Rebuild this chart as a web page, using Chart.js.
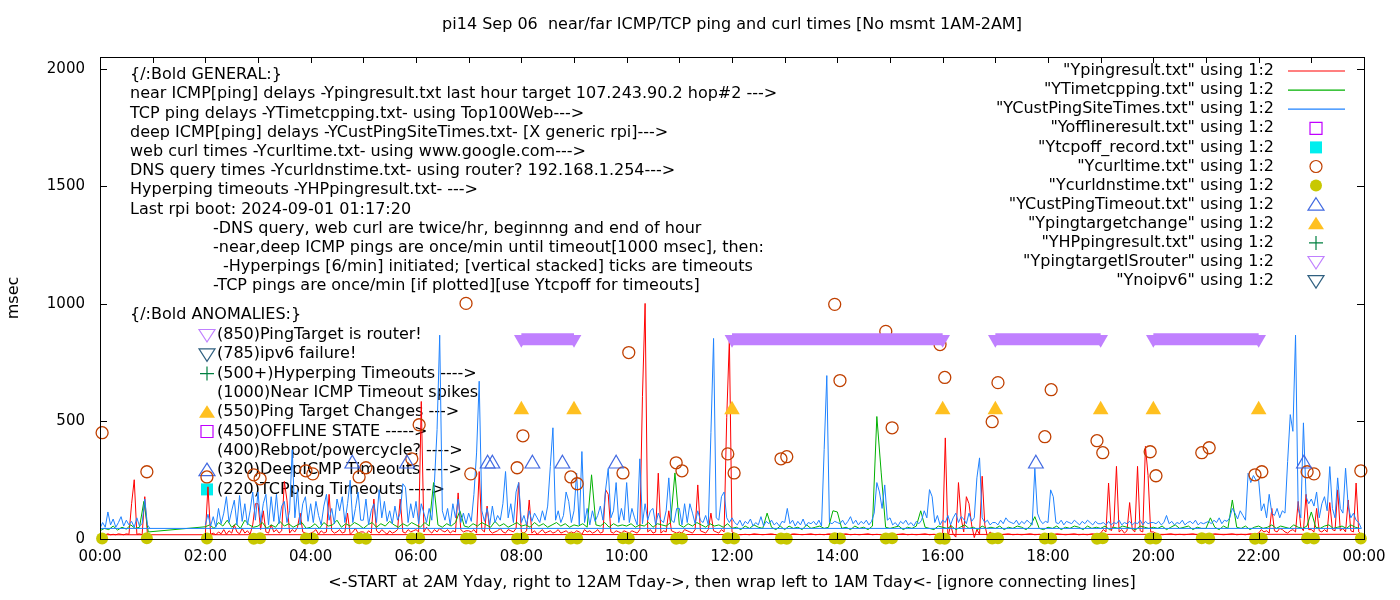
<!DOCTYPE html>
<html>
<head>
<meta charset="utf-8">
<title>pi14 ping and curl times</title>
<script src="https://cdn.jsdelivr.net/npm/chart.js@4.4.1/dist/chart.umd.min.js"></script>
<style>
  body { margin: 0; background: #fff; }
  canvas { display: block; }
</style>
</head>
<body>
<canvas id="pingChart" width="1400" height="600"></canvas>
<script>
// one row per hour of the day, values spread evenly over the hour, msec; null = no msmt
const nearIcmpRows = [
  [18, 20, 18, 22, 18, 20, 18, 22, 20, 18, 22, 20, 150, 252, 20, 22, 18, 180, 20, 18],
  null,
  [20, 222, 20, 25, 18, 30, 22, 40, 20, 35, 25, 60, 30, 22, 45, 25, 35, 20, 60, 150],
  [150, 40, 120, 30, 25, 60, 30, 40, 25, 35, 245, 165, 25, 40, 30, 50, 110, 30, 25, 20],
  [25, 30, 40, 20, 35, 25, 30, 190, 35, 25, 30, 40, 25, 30, 110, 20, 30, 45, 25, 30],
  [30, 20, 35, 25, 170, 35, 25, 40, 30, 20, 35, 25, 30, 40, 170, 30, 25, 40, 30, 35],
  [40, 30, 585, 30, 50, 35, 25, 40, 30, 45, 35, 30, 40, 25, 35, 30, 196, 40, 30, 35],
  [35, 30, 40, 25, 287, 40, 30, 140, 35, 25, 30, 35, 45, 30, 25, 40, 35, 30, 45, 240],
  [30, 25, 35, 166, 25, 35, 20, 30, 40, 25, 30, 35, 25, 30, 40, 25, 30, 35, 25, 30],
  [25, 35, 30, 20, 40, 30, 35, 25, 30, 40, 25, 30, 210, 190, 30, 25, 35, 30, 25, 35],
  [30, 25, 35, 30, 25, 40, 607, 1002, 30, 40, 25, 30, 280, 25, 35, 30, 120, 35, 30, 25],
  [30, 25, 40, 35, 30, 25, 40, 230, 35, 30, 25, 40, 110, 35, 30, 25, 40, 30, 516, 849],
  [30, 20, 18, 20, 18, 22, 20, 18, 20, 22, 18, 20],
  [20, 18, 22, 20, 18, 20, 22, 18, 20, 18, 22, 20],
  [18, 20, 22, 18, 20, 18, 20, 22, 18, 20, 18, 20],
  [20, 18, 20, 22, 18, 20, 18, 20, 22, 18, 20, 18],
  [20, 430, 5, 60, 20, 8, 240, 90, 30, 180, 150, 60, 6, 40, 20, 267, 60, 10, 30, 20],
  [20, 18, 20, 22, 18, 20, 18, 20, 22, 18, 20, 18],
  [20, 18, 22, 20, 18, 20, 22, 18, 20, 18, 22, 20],
  [25, 40, 30, 238, 35, 60, 309, 30, 40, 25, 35, 155, 40, 30, 309, 35, 30, 394, 270, 30],
  [30, 20, 18, 20, 22, 18, 20, 18, 20, 22, 18, 20],
  [20, 18, 22, 20, 18, 20, 22, 18, 20, 18, 22, 20],
  [25, 40, 30, 35, 25, 130, 35, 30, 45, 40, 30, 25, 35, 40, 30, 160, 50, 35, 190, 40],
  [40, 30, 130, 35, 30, 40, 30, 155, 40, 35, 209, 35, 45, 30, 166, 35, 30, 238, 30, 20]
];

const tcpPingRows = [
  [35, 45, 40, 55, 38, 50, 42, 60, 45, 50, 160, 30],
  null,
  [52, 60, 45, 70, 55, 80, 50, 65, 45, 80, 60, 50],
  [55, 70, 45, 60, 50, 75, 55, 65, 50, 60, 70, 45],
  [50, 65, 45, 70, 55, 60, 80, 50, 65, 55, 70, 60],
  [45, 60, 70, 50, 65, 55, 75, 60, 50, 65, 55, 70],
  [60, 50, 70, 55, 240, 60, 50, 65, 55, 70, 120, 55],
  [50, 65, 55, 70, 60, 50, 75, 55, 65, 50, 60, 70],
  [55, 60, 50, 70, 55, 65, 50, 60, 70, 55, 65, 50],
  [60, 55, 65, 50, 273, 60, 55, 70, 50, 65, 55, 60],
  [55, 65, 50, 60, 55, 70, 50, 65, 60, 55, 70, 281],
  [60, 50, 65, 55, 70, 60, 50, 65, 55, 60, 50, 65],
  [45, 50, 40, 55, 45, 60, 50, 45, 110, 50, 40, 55],
  [40, 55, 45, 50, 40, 60, 45, 50, 55, 45, 50, 120],
  [115, 45, 50, 40, 55, 45, 50, 40, 55, 521, 281, 50],
  [45, 50, 55, 40, 50, 45, 55, 120, 50, 45, 40, 55],
  [50, 45, 55, 40, 50, 60, 45, 50, 40, 55, 45, 50],
  [45, 55, 40, 50, 45, 55, 50, 40, 55, 95, 45, 40],
  [50, 45, 55, 40, 50, 45, 55, 50, 40, 55, 45, 50],
  [45, 55, 40, 50, 45, 55, 50, 45, 40, 55, 50, 45],
  [50, 45, 55, 40, 50, 60, 45, 50, 55, 40, 50, 45],
  [45, 90, 50, 40, 55, 45, 166, 50, 45, 55, 40, 50],
  [55, 45, 50, 60, 45, 55, 50, 45, 60, 50, 45, 55],
  [115, 50, 45, 55, 60, 45, 50, 55, 45, 60, 50, 45]
];

const deepIcmpRows = [
  [45, 70, 50, 115, 60, 85, 50, 70, 95, 55, 80, 60, 75, 50, 90, 55, 65, 170, 60, 45],
  null,
  [60, 105, 55, 95, 50, 130, 65, 110, 180, 70, 120, 165, 60, 185, 75, 150, 60, 120, 200, 80],
  [200, 70, 150, 190, 60, 180, 75, 190, 65, 140, 160, 70, 120, 380, 90, 210, 60, 150, 180, 75],
  [150, 70, 160, 100, 60, 140, 190, 80, 130, 65, 170, 120, 180, 70, 150, 250, 70, 130, 200, 80],
  [80, 170, 60, 120, 150, 70, 210, 90, 160, 75, 120, 65, 140, 80, 110, 235, 220, 70, 150, 90],
  [160, 65, 150, 110, 70, 130, 80, 240, 465, 867, 120, 80, 130, 60, 150, 90, 170, 70, 110, 65],
  [110, 75, 190, 366, 671, 120, 75, 130, 60, 140, 70, 100, 80, 150, 287, 90, 150, 70, 200, 240],
  [70, 100, 60, 120, 75, 110, 90, 70, 120, 80, 140, 308, 473, 80, 120, 70, 100, 200, 160, 70],
  [120, 280, 60, 372, 70, 130, 60, 120, 75, 100, 140, 80, 210, 300, 90, 120, 240, 70, 130, 80],
  [240, 70, 130, 90, 60, 341, 65, 150, 80, 120, 130, 60, 110, 80, 70, 120, 260, 80, 70, 130],
  [130, 60, 150, 70, 150, 110, 65, 120, 80, 70, 100, 60, 452, 853, 90, 80, 180, 200, 90, 70],
  [90, 70, 60, 80, 55, 75, 65, 85, 55, 70, 60, 95, 55, 75, 65, 80, 60, 70, 55, 75],
  [70, 130, 65, 80, 55, 75, 60, 85, 55, 70, 65, 75, 60, 80, 55, 380, 695, 70, 65, 75],
  [70, 65, 80, 60, 75, 95, 65, 80, 60, 75, 65, 80, 60, 75, 110, 240, 200, 130, 230, 80],
  [90, 60, 70, 55, 75, 65, 80, 60, 70, 55, 75, 65, 80, 120, 90, 210, 180, 70, 100, 60],
  [80, 70, 100, 60, 90, 110, 70, 95, 85, 65, 110, 75, 90, 260, 345, 90, 70, 80, 60, 70],
  [70, 60, 80, 65, 90, 75, 70, 65, 80, 60, 75, 65, 80, 70, 60, 300, 110, 80, 65, 75],
  [70, 209, 180, 70, 65, 80, 60, 75, 70, 65, 80, 70, 60, 75, 65, 80, 70, 60, 75, 65],
  [65, 70, 60, 75, 60, 70, 65, 80, 60, 70, 65, 75, 60, 70, 65, 80, 60, 75, 65, 70],
  [70, 65, 75, 60, 70, 100, 65, 75, 60, 70, 65, 80, 60, 70, 75, 65, 80, 60, 70, 65],
  [70, 75, 65, 80, 70, 90, 65, 80, 75, 90, 130, 110, 85, 120, 100, 80, 280, 240, 270, 250],
  [250, 120, 150, 90, 190, 110, 100, 130, 90, 120, 110, 330, 529, 458, 867, 130, 90, 494, 180, 150],
  [170, 140, 200, 90, 150, 180, 120, 308, 130, 90, 260, 130, 110, 301, 140, 90, 110, 80, 70, 45]
];

// curl and dns are taken at the end and beginning of each hour (hours of day)
const curlTimes = [0.04, 0.89, 2.03, 2.92, 3.04, 3.91, 4.04, 4.92, 5.05, 5.92, 6.06, 6.95, 7.04, 7.92, 8.03,
  8.94, 9.06, 9.93, 10.04, 10.94, 11.05, 11.92, 12.04, 12.93, 13.04, 13.95, 14.05, 14.92, 15.04, 15.95,
  16.04, 16.94, 17.05, 17.94, 18.06, 18.93, 19.04, 19.94, 20.05, 20.92, 21.06, 21.93, 22.06, 22.92, 23.05, 23.94];
const curlMsec = [452, 286, 264, 273, 256, 290, 277, 264, 303, 341, 486, 1002, 277, 303, 439,
  264, 235, 281, 793, 324, 290, 362, 281, 341, 350, 998, 674, 883, 473, 827,
  687, 499, 665, 435, 635, 418, 367, 371, 269, 367, 388, 273, 286, 286, 277, 290];
const dnsMsec = [2, 3, 2, 1, 3, 2, 2, 3, 1, 2, 3, 2, 2, 1, 3,
  2, 2, 3, 2, 1, 2, 3, 2, 2, 1, 3, 2, 2, 3, 2,
  1, 2, 3, 2, 2, 1, 3, 2, 2, 3, 2, 1, 2, 3, 2, 2];

const custTimeoutTimes = [4.79, 5.83, 7.36, 7.45, 8.21, 8.78, 9.80, 17.77, 22.86];
const custTimeoutMsec = [320, 320, 320, 320, 320, 320, 320, 320, 320];

const targetChangeTimes = [8, 9, 12, 16, 17, 19, 20, 22];
const targetChangeMsec = [550, 550, 550, 550, 550, 550, 550, 550];

const routerStart = [8, 12, 17, 20];
const routerEnd = [9, 16, 19, 22];
const routerMsec = [850, 850, 850, 850];

const xTicksHours = [0, 2, 4, 6, 8, 10, 12, 14, 16, 18, 20, 22, 24];
const yTicksMsec = [0, 500, 1000, 1500, 2000];

const generalNotes = [
  ['{/:Bold GENERAL:}', 130],
  ['near ICMP[ping] delays -Ypingresult.txt last hour target 107.243.90.2 hop#2 --->', 130],
  ['TCP ping delays -YTimetcpping.txt- using Top100Web--->', 130],
  ['deep ICMP[ping] delays -YCustPingSiteTimes.txt- [X generic rpi]--->', 130],
  ['web curl times -Ycurltime.txt- using www.google.com--->', 130],
  ['DNS query times -Ycurldnstime.txt- using router? 192.168.1.254--->', 130],
  ['Hyperping timeouts -YHPpingresult.txt- --->', 130],
  ['Last rpi boot: 2024-09-01 01:17:20', 130],
  ['-DNS query, web curl are twice/hr, beginnng and end of hour', 213],
  ['-near,deep ICMP pings are once/min until timeout[1000 msec], then:', 213],
  ['-Hyperpings [6/min] initiated; [vertical stacked] ticks are timeouts', 223],
  ['-TCP pings are once/min [if plotted][use Ytcpoff for timeouts]', 213]
];

const anomalyNotes = [
  ['(850)PingTarget is router!', 'itri', '#c080ff'],
  ['(785)ipv6 failure!', 'itri', '#306080'],
  ['(500+)Hyperping Timeouts ---->', 'plus', '#008040'],
  ['(1000)Near ICMP Timeout spikes', null, null],
  ['(550)Ping Target Changes --->', 'trif', '#ffc020'],
  ['(450)OFFLINE STATE ----->', 'sq', '#c000ff'],
  ['(400)Rebpot/powercycle? ---->', null, null],
  ['(320)DeepICMP Timeouts ---->', 'tri', '#4169e1'],
  ['(220)TCPping Timeouts ---->', 'sqf', '#00eeee']
];

const keyEntries = [
  ['"Ypingresult.txt" using 1:2', 'line', '#ff0000'],
  ['"YTimetcpping.txt" using 1:2', 'line', '#00b000'],
  ['"YCustPingSiteTimes.txt" using 1:2', 'line', '#1e82ff'],
  ['"Yofflineresult.txt" using 1:2', 'sq', '#c000ff'],
  ['"Ytcpoff_record.txt" using 1:2', 'sqf', '#00eeee'],
  ['"Ycurltime.txt" using 1:2', 'circ', '#c04000'],
  ['"Ycurldnstime.txt" using 1:2', 'circf', '#c8c800'],
  ['"YCustPingTimeout.txt" using 1:2', 'tri', '#4169e1'],
  ['"Ypingtargetchange" using 1:2', 'trif', '#ffc020'],
  ['"YHPpingresult.txt" using 1:2', 'plus', '#008040'],
  ['"YpingtargetISrouter" using 1:2', 'itri', '#c080ff'],
  ['"Ynoipv6" using 1:2', 'itri', '#306080']
];

// files start at 2AM yesterday, run to midnight, then wrap to today 0-1AM
function toPoints(rows, hours) {
  let pts = [];
  hours.forEach(function(h) {
    if (!rows[h]) return;
    rows[h].forEach(function(v, i) {
      pts.push({x: h + i / rows[h].length, y: v});
    });
  });
  return pts;
}
let fromTwoAm = [];
for (let h = 2; h < 24; h++) fromTwoAm.push(h);
fromTwoAm.push(0, 1);
let byTime = [];
for (let h = 0; h < 24; h++) byTime.push(h);

let routerPts = [];
routerStart.forEach(function(s, i) {
  routerPts.push({x: s, y: routerMsec[i]}, {x: routerEnd[i], y: routerMsec[i]});
  if (i < routerStart.length - 1) routerPts.push({x: routerEnd[i], y: null});
});

const FONT = '16px "DejaVu Sans"';

function mark(ctx, kind, x, y, color) {
  ctx.save();
  ctx.strokeStyle = color;
  ctx.fillStyle = color;
  ctx.lineWidth = 1.2;
  ctx.beginPath();
  if (kind == 'line') {
    ctx.moveTo(x - 28, y); ctx.lineTo(x + 29, y); ctx.stroke();
  } else if (kind == 'sq' || kind == 'sqf') {
    ctx.rect(x - 6, y - 6, 12, 12);
    kind == 'sqf' ? ctx.fill() : ctx.stroke();
  } else if (kind == 'circ' || kind == 'circf') {
    ctx.arc(x, y, 6, 0, Math.PI * 2);
    kind == 'circf' ? ctx.fill() : ctx.stroke();
  } else if (kind == 'tri' || kind == 'trif') {
    ctx.moveTo(x, y - 7); ctx.lineTo(x + 8, y + 5.5); ctx.lineTo(x - 8, y + 5.5); ctx.closePath();
    kind == 'trif' ? ctx.fill() : ctx.stroke();
  } else if (kind == 'itri') {
    ctx.moveTo(x - 8, y - 5.5); ctx.lineTo(x + 8, y - 5.5); ctx.lineTo(x, y + 7); ctx.closePath();
    ctx.stroke();
  } else if (kind == 'plus') {
    ctx.moveTo(x - 7, y); ctx.lineTo(x + 7, y);
    ctx.moveTo(x, y - 7); ctx.lineTo(x, y + 7);
    ctx.stroke();
  }
  ctx.restore();
}

const gnuplotLook = {
  id: 'gnuplotLook',
  beforeDatasetsDraw(chart) {
    const ctx = chart.ctx;
    ctx.save();
    ctx.font = FONT;
    ctx.fillStyle = '#000';
    ctx.textAlign = 'left';
    ctx.textBaseline = 'middle';
    generalNotes.forEach(function(n, i) {
      ctx.fillText(n[0], n[1], 75 + i * 19.2);
    });
    ctx.fillText('{/:Bold ANOMALIES:}', 130, 315);
    anomalyNotes.forEach(function(n, i) {
      let y = 335 + i * 19.3;
      ctx.fillText(n[0], 217, y);
      if (n[1]) mark(ctx, n[1], 207, y, n[2]);
    });
    ctx.restore();
  },
  afterDraw(chart) {
    const ctx = chart.ctx;
    const a = chart.chartArea;
    const xs = chart.scales.x, ys = chart.scales.y;
    ctx.save();
    // frame and inward ticks
    ctx.strokeStyle = '#000';
    ctx.lineWidth = 1;
    ctx.strokeRect(a.left + 0.5, a.top + 0.5, a.right - a.left, a.bottom - a.top);
    ctx.beginPath();
    for (let h = 0; h <= 24; h++) {
      let px = Math.round(xs.getPixelForValue(h)) + 0.5;
      ctx.moveTo(px, a.top); ctx.lineTo(px, a.top + 6);
      if (h % 2 == 0) { ctx.moveTo(px, a.bottom); ctx.lineTo(px, a.bottom - 6); }
    }
    yTicksMsec.forEach(function(v) {
      let py = Math.round(ys.getPixelForValue(v)) + 0.5;
      ctx.moveTo(a.left, py); ctx.lineTo(a.left + 7, py);
      ctx.moveTo(a.right, py); ctx.lineTo(a.right - 7, py);
    });
    ctx.stroke();

    ctx.font = FONT;
    ctx.fillStyle = '#000';
    ctx.textBaseline = 'middle';
    ctx.textAlign = 'center';
    ctx.fillText('pi14 Sep 06  near/far ICMP/TCP ping and curl times [No msmt 1AM-2AM]', 732, 25);
    ctx.fillText('<-START at 2AM Yday, right to 12AM Tday->, then wrap left to 1AM Tday<- [ignore connecting lines]', 732, 583);
    ctx.save();
    ctx.translate(14, 298);
    ctx.rotate(-Math.PI / 2);
    ctx.fillText('msec', 0, 0);
    ctx.restore();

    // key, top right
    ctx.textAlign = 'right';
    keyEntries.forEach(function(k, i) {
      let y = 71 + i * 19.1;
      ctx.fillText(k[0], 1274, y);
      mark(ctx, k[1], 1316, y, k[2]);
    });
    ctx.restore();
  }
};

const lineBase = {
  pointRadius: 0,
  borderWidth: 1,
  tension: 0,
  fill: false
};

new Chart(document.getElementById('pingChart'), {
  type: 'line',
  data: {
    datasets: [
      Object.assign({
        label: 'Ypingresult.txt',
        data: toPoints(nearIcmpRows, fromTwoAm),
        borderColor: '#ff0000',
        order: 30
      }, lineBase),
      Object.assign({
        label: 'YTimetcpping.txt',
        data: toPoints(tcpPingRows, byTime),
        borderColor: '#00b000',
        order: 29
      }, lineBase),
      Object.assign({
        label: 'YCustPingSiteTimes.txt',
        data: toPoints(deepIcmpRows, fromTwoAm),
        borderColor: '#1e82ff',
        order: 28
      }, lineBase),
      {
        label: 'Ycurltime.txt',
        data: curlTimes.map(function(t, i) { return {x: t, y: curlMsec[i]}; }),
        showLine: false,
        pointStyle: 'circle',
        pointRadius: 6,
        pointBorderWidth: 1.3,
        pointBorderColor: '#c04000',
        pointBackgroundColor: 'rgba(0,0,0,0)',
        clip: false,
        order: 5
      },
      {
        label: 'Ycurldnstime.txt',
        data: curlTimes.map(function(t, i) { return {x: t, y: dnsMsec[i]}; }),
        showLine: false,
        pointStyle: 'circle',
        pointRadius: 6,
        pointBorderWidth: 0,
        pointBackgroundColor: '#c8c800',
        clip: false,
        order: 4
      },
      {
        label: 'YCustPingTimeout.txt',
        data: custTimeoutTimes.map(function(t, i) { return {x: t, y: custTimeoutMsec[i]}; }),
        showLine: false,
        pointStyle: 'triangle',
        pointRadius: 8.5,
        pointBorderWidth: 1.2,
        pointBorderColor: '#4169e1',
        pointBackgroundColor: 'rgba(0,0,0,0)',
        order: 3
      },
      {
        label: 'Ypingtargetchange',
        data: targetChangeTimes.map(function(t, i) { return {x: t, y: targetChangeMsec[i]}; }),
        showLine: false,
        pointStyle: 'triangle',
        pointRadius: 9,
        pointBorderWidth: 0,
        pointBackgroundColor: '#ffc020',
        order: 2
      },
      {
        label: 'YpingtargetISrouter',
        data: routerPts,
        borderColor: '#c080ff',
        borderWidth: 12,
        borderCapStyle: 'butt',
        spanGaps: false,
        pointStyle: 'triangle',
        rotation: 180,
        pointRadius: 8.5,
        pointBorderWidth: 0,
        pointBackgroundColor: '#c080ff',
        order: 1
      }
    ]
  },
  options: {
    responsive: false,
    animation: false,
    devicePixelRatio: 1,
    events: [],
    layout: { padding: { top: 57, right: 36, left: 0, bottom: 0 } },
    plugins: {
      legend: { display: false },
      tooltip: { enabled: false },
      title: { display: false }
    },
    scales: {
      x: {
        type: 'linear',
        min: 0,
        max: 24,
        grid: { display: false, drawTicks: false },
        border: { display: false },
        afterBuildTicks: function(s) { s.ticks = xTicksHours.map(function(v) { return {value: v}; }); },
        afterFit: function(s) { s.height = 61; },
        ticks: {
          autoSkip: false,
          maxRotation: 0,
          padding: 9,
          color: '#000',
          font: { family: 'DejaVu Sans', size: 15 },
          callback: function(v) { return String(v % 24).padStart(2, '0') + ':00'; }
        }
      },
      y: {
        min: 0,
        max: 2050,
        grid: { display: false, drawTicks: false },
        border: { display: false },
        afterBuildTicks: function(s) { s.ticks = yTicksMsec.map(function(v) { return {value: v}; }); },
        afterFit: function(s) { s.width = 100; },
        ticks: {
          autoSkip: false,
          padding: 15,
          color: '#000',
          font: { family: 'DejaVu Sans', size: 15 },
          callback: function(v) { return String(v); }
        }
      }
    }
  },
  plugins: [gnuplotLook]
});
</script>
</body>
</html>
